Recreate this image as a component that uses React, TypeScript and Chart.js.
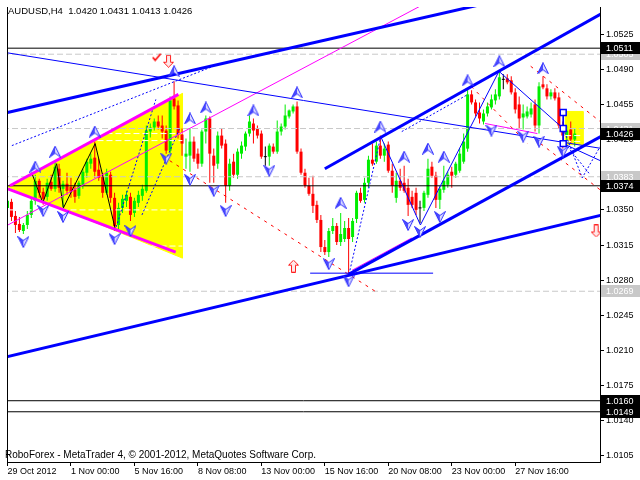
import { useEffect, useRef } from 'react';
import { Chart, registerables } from 'chart.js';

Chart.register(...registerables);

const FONT = 'Liberation Sans';

// ---- axes ----
const xTickIdx = [0, 16, 32, 48, 64, 80, 96, 112, 128];
const xTickLabels = ['29 Oct 2012', '1 Nov 00:00', '5 Nov 16:00', '8 Nov 08:00', '13 Nov 00:00', '15 Nov 16:00', '20 Nov 08:00', '23 Nov 00:00', '27 Nov 16:00'];
const yTicks = [1.0525, 1.049, 1.0455, 1.042, 1.0385, 1.035, 1.0315, 1.028, 1.0245, 1.021, 1.0175, 1.014, 1.0105];
const xMin = -0.125;
const xMax = 149.375;
const yMin = 1.0099;
const yMax = 1.0552;

const titleText = 'AUDUSD,H4  1.0420 1.0431 1.0413 1.0426';
const copyrightText = 'RoboForex - MetaTrader 4, \u00a9 2001-2012, MetaQuotes Software Corp.';

// ---- H4 candles ----
const opens = [
  1.0352, 1.0358, 1.0344, 1.0336, 1.0329, 1.0335, 1.0345, 1.0359, 1.0379, 1.0368,
  1.0363, 1.0378, 1.0371, 1.0391, 1.0371, 1.0376, 1.0373, 1.0370, 1.0364, 1.0375,
  1.0387, 1.0396, 1.0402, 1.0390, 1.0383, 1.0367, 1.0385, 1.0362, 1.0335, 1.0352,
  1.0359, 1.0363, 1.0347, 1.0357, 1.0364, 1.0369, 1.0428, 1.0432, 1.0438, 1.0434,
  1.0429, 1.0409, 1.0461, 1.0454, 1.0425, 1.0403, 1.0404, 1.0418, 1.0406, 1.0396,
  1.0428, 1.0441, 1.0404, 1.0396, 1.0424, 1.0416, 1.0374, 1.0398, 1.0385, 1.0406,
  1.0413, 1.0426, 1.0436, 1.0431, 1.0426, 1.0403, 1.0403, 1.0413, 1.0408, 1.0428,
  1.0433, 1.0443, 1.0448, 1.0453, 1.0408, 1.0387, 1.0374, 1.0366, 1.0355, 1.0340,
  1.0313, 1.0308, 1.0329, 1.0334, 1.0318, 1.0321, 1.0332, 1.0323, 1.0341, 1.0367,
  1.0360, 1.0377, 1.0400, 1.0398, 1.0414, 1.0404, 1.0415, 1.0389, 1.0362, 1.0379,
  1.0377, 1.0372, 1.0363, 1.0367, 1.0352, 1.0352, 1.0365, 1.0393, 1.0384, 1.0360,
  1.0370, 1.0375, 1.0388, 1.0385, 1.0389, 1.0398, 1.0411, 1.0465, 1.0457, 1.0447,
  1.0438, 1.0446, 1.0452, 1.0459, 1.0463, 1.0480, 1.0481, 1.0479, 1.0467, 1.0455,
  1.0442, 1.0443, 1.0445, 1.0455, 1.0434, 1.0475, 1.0471, 1.0463, 1.0467, 1.0462,
  1.0434, 1.0424, 1.0430, 1.0420,
];
const highs = [
  1.0361, 1.0361, 1.0349, 1.0343, 1.0337, 1.0349, 1.0362, 1.0385, 1.0381, 1.0372,
  1.0381, 1.0385, 1.0398, 1.0396, 1.0379, 1.0387, 1.0382, 1.0377, 1.0379, 1.0391,
  1.0401, 1.0406, 1.0418, 1.0401, 1.0387, 1.0391, 1.0388, 1.0367, 1.0357, 1.0365,
  1.0369, 1.0367, 1.0362, 1.0369, 1.0375, 1.0434, 1.0436, 1.0441, 1.0444, 1.0444,
  1.0434, 1.0463, 1.0478, 1.0459, 1.0431, 1.0421, 1.0431, 1.0423, 1.0411, 1.0430,
  1.0444, 1.0443, 1.0411, 1.0428, 1.0431, 1.0420, 1.0401, 1.0406, 1.0411, 1.0418,
  1.0428, 1.0444, 1.0441, 1.0434, 1.0429, 1.0413, 1.0416, 1.0416, 1.0439, 1.0436,
  1.0455, 1.0450, 1.0455, 1.0458, 1.0411, 1.0391, 1.0382, 1.0384, 1.0359, 1.0345,
  1.0320, 1.0332, 1.0342, 1.0337, 1.0347, 1.0339, 1.0342, 1.0342, 1.0369, 1.0372,
  1.0382, 1.0404, 1.0416, 1.0418, 1.0424, 1.0416, 1.0418, 1.0396, 1.0387, 1.0391,
  1.0394, 1.0381, 1.0369, 1.0372, 1.0359, 1.0369, 1.0401, 1.0398, 1.0388, 1.0374,
  1.0394, 1.0388, 1.0393, 1.0398, 1.0411, 1.0426, 1.0470, 1.0469, 1.0460, 1.0457,
  1.0450, 1.0457, 1.0465, 1.0470, 1.0488, 1.0485, 1.0485, 1.0483, 1.0471, 1.0463,
  1.0455, 1.0453, 1.0457, 1.0460, 1.0477, 1.0483, 1.0475, 1.0470, 1.0471, 1.0467,
  1.0438, 1.0434, 1.0438, 1.0431,
];
const lows = [
  1.0349, 1.0339, 1.0327, 1.0328, 1.0326, 1.0331, 1.0342, 1.0355, 1.0362, 1.0355,
  1.0359, 1.0369, 1.0368, 1.0367, 1.0353, 1.0365, 1.0362, 1.0357, 1.0361, 1.0371,
  1.0382, 1.0391, 1.0382, 1.0379, 1.0362, 1.0365, 1.0357, 1.0329, 1.0331, 1.0347,
  1.0353, 1.0339, 1.0343, 1.0353, 1.0359, 1.0367, 1.0422, 1.0429, 1.0430, 1.0421,
  1.0406, 1.0406, 1.0450, 1.0421, 1.0404, 1.0391, 1.0388, 1.0398, 1.0391, 1.0393,
  1.0416, 1.0377, 1.0377, 1.0391, 1.0411, 1.0357, 1.0369, 1.0382, 1.0381, 1.0401,
  1.0409, 1.0423, 1.0416, 1.0421, 1.0401, 1.0394, 1.0394, 1.0406, 1.0406, 1.0424,
  1.0430, 1.0441, 1.0446, 1.0406, 1.0385, 1.0372, 1.0364, 1.0347, 1.0337, 1.0308,
  1.0305, 1.0303, 1.0326, 1.0315, 1.0314, 1.0318, 1.0286, 1.0318, 1.0337, 1.0357,
  1.0357, 1.0372, 1.0394, 1.0396, 1.0401, 1.0398, 1.0387, 1.0367, 1.0357, 1.0369,
  1.0367, 1.0344, 1.0352, 1.0345, 1.0337, 1.0349, 1.0362, 1.0382, 1.0352, 1.0351,
  1.0367, 1.0372, 1.0372, 1.0382, 1.0387, 1.0396, 1.0408, 1.0455, 1.0443, 1.0436,
  1.0435, 1.0443, 1.0450, 1.0455, 1.0460, 1.0470, 1.0475, 1.0465, 1.0446, 1.0431,
  1.0430, 1.0441, 1.0442, 1.0428, 1.0426, 1.0470, 1.0460, 1.0460, 1.0459, 1.0431,
  1.0411, 1.0418, 1.0416, 1.0413,
];
const closes = [
  1.0359, 1.0343, 1.0335, 1.0330, 1.0335, 1.0345, 1.0359, 1.0379, 1.0367, 1.0361,
  1.0377, 1.0371, 1.0393, 1.0372, 1.0376, 1.0369, 1.0368, 1.0363, 1.0377, 1.0388,
  1.0398, 1.0401, 1.0388, 1.0382, 1.0367, 1.0387, 1.0362, 1.0334, 1.0352, 1.0361,
  1.0365, 1.0345, 1.0359, 1.0365, 1.0371, 1.0429, 1.0432, 1.0438, 1.0433, 1.0428,
  1.0409, 1.0459, 1.0453, 1.0425, 1.0416, 1.0406, 1.0418, 1.0401, 1.0396, 1.0428,
  1.0441, 1.0406, 1.0394, 1.0424, 1.0414, 1.0374, 1.0396, 1.0385, 1.0408, 1.0414,
  1.0426, 1.0438, 1.0429, 1.0424, 1.0403, 1.0403, 1.0414, 1.0408, 1.0428, 1.0433,
  1.0444, 1.0449, 1.0453, 1.0408, 1.0387, 1.0374, 1.0366, 1.0354, 1.0340, 1.0313,
  1.0308, 1.0329, 1.0334, 1.0318, 1.0326, 1.0332, 1.0321, 1.0339, 1.0367, 1.0359,
  1.0377, 1.0400, 1.0396, 1.0414, 1.0404, 1.0411, 1.0389, 1.0374, 1.0379, 1.0372,
  1.0369, 1.0355, 1.0355, 1.0350, 1.0352, 1.0367, 1.0391, 1.0384, 1.0360, 1.0371,
  1.0379, 1.0385, 1.0384, 1.0396, 1.0406, 1.0418, 1.0465, 1.0457, 1.0446, 1.0441,
  1.0446, 1.0453, 1.0460, 1.0465, 1.0482, 1.0480, 1.0477, 1.0467, 1.0450, 1.0441,
  1.0446, 1.0448, 1.0451, 1.0434, 1.0473, 1.0472, 1.0463, 1.0467, 1.0461, 1.0434,
  1.0424, 1.0429, 1.0420, 1.0426,
];

// ---- Fractals (bar index, price of arrow) ----
const upFractalIdx = [7, 12, 22, 42, 46, 50, 62, 73, 84, 94, 100, 106, 110, 116, 124, 135];
const upFractalPrice = [1.0393, 1.0408, 1.0428, 1.0488, 1.0441, 1.0452, 1.0449, 1.0467, 1.0357, 1.0433, 1.0403, 1.0411, 1.0403, 1.0479, 1.0498, 1.0491];
const downFractalIdx = [4, 9, 14, 27, 31, 40, 46, 52, 55, 66, 81, 86, 101, 104, 109, 122, 130, 134, 140];
const downFractalPrice = [1.0318, 1.0349, 1.0343, 1.0321, 1.0329, 1.0401, 1.0380, 1.0369, 1.0349, 1.0389, 1.0296, 1.0279, 1.0335, 1.0328, 1.0343, 1.0429, 1.0423, 1.0418, 1.0408];

// ---- drawn objects (bar index, price) ----
type Pt = [number, number];
const thickBlueLines: Pt[][] = [
  [[0, 1.0447], [120, 1.0555]],
  [[-1, 1.0203], [150, 1.0345]],
  [[80, 1.0391], [150, 1.0546]],
  [[86.1, 1.0286], [150, 1.0424]],
];
const thinBlueLines: Pt[][] = [
  [[-1, 1.0507], [150, 1.0411]],
  [[94.1, 1.0423], [104.1, 1.0335], [123.9, 1.0488], [140.1, 1.0431]],
  [[140.1, 1.0447], [140.1, 1.0416]],
  [[140.1, 1.0416], [150, 1.0398]],
  [[76.3, 1.0287], [107.3, 1.0287]],
];
const dottedBlueLines: Pt[][] = [
  [[1.1, 1.0414], [51.9, 1.0493]],
  [[27.4, 1.0333], [37.4, 1.046]],
  [[33.9, 1.0345], [43.4, 1.0431]],
  [[86.1, 1.0286], [94.1, 1.0423]],
  [[99.4, 1.0428], [116.1, 1.0465]],
  [[140.1, 1.0431], [144.9, 1.0382], [149.4, 1.0413]],
  [[140.6, 1.0416], [146.9, 1.0385]],
];
const redDashedLines: Pt[][] = [
  [[40.9, 1.0399], [93.1, 1.0268]],
  [[131.9, 1.0493], [149.4, 1.0438]],
  [[134.4, 1.0416], [149.4, 1.037]],
  [[116.9, 1.0473], [131.1, 1.0416]],
];
const magentaThickLines: Pt[][] = [
  [[0.6, 1.0374], [43.1, 1.0465]],
  [[0.1, 1.0371], [42.4, 1.0308]],
];
const magentaThinLines: Pt[][] = [
  [[0.1, 1.0335], [106, 1.0557]],
  [[120.4, 1.0436], [133.6, 1.0426]],
  [[86.9, 1.029], [101.9, 1.0322]],
];
const blackZigzag: Pt[] = [[6.1, 1.0387], [8.9, 1.0357], [12.4, 1.0396], [14.1, 1.0352], [22.1, 1.0416], [27.1, 1.0332]];
const yellowTriangle: Pt[] = [[0.1, 1.0373], [44.1, 1.0466], [44.1, 1.0302], [0.1, 1.0373]];
const yellowRect: Pt[] = [[140.6, 1.0448], [145.1, 1.0448], [145.1, 1.0415], [140.6, 1.0415], [140.6, 1.0448]];
const whiteLevelSegs: Pt[][] = [
  [[0, 1.0426], [44.1, 1.0426]],
  [[0, 1.0419], [44.1, 1.0419]],
  [[0, 1.035], [44.1, 1.035]],
  [[0, 1.0314], [44.1, 1.0314]],
  [[140.6, 1.0424], [145.1, 1.0424]],
  [[140.6, 1.0418], [145.1, 1.0418]],
];
const grayLevels = [1.0505, 1.0431, 1.0383, 1.0269];
const blackLevels = [1.0511, 1.0374, 1.016, 1.0149];
const checkMarks: Pt[] = [[37.6, 1.0502]];
const hollowDownArrows: Pt[] = [[40.6, 1.0498], [148.4, 1.0329]];
const hollowUpArrows: Pt[] = [[72.1, 1.0294]];
const blueSquares: Pt[] = [[140.1, 1.0447], [140.1, 1.0431], [140.1, 1.0416]];

const priceLabels = [
  { value: 1.0505, dark: false },
  { value: 1.0511, dark: true },
  { value: 1.0431, dark: false },
  { value: 1.0426, dark: true },
  { value: 1.0383, dark: false },
  { value: 1.0374, dark: true },
  { value: 1.0269, dark: false },
  { value: 1.016, dark: true },
  { value: 1.0149, dark: true },
];

const BULL = '#00ee00';
const BEAR = '#ff0000';

function makeFractal(up: boolean) {
  const c = document.createElement('canvas');
  c.width = 12;
  c.height = 12;
  const g = c.getContext('2d')!;
  if (!up) {
    g.translate(0, 12);
    g.scale(1, -1);
  }
  g.beginPath();
  g.moveTo(6, 0.5);
  g.lineTo(6, 7.5);
  g.lineTo(0.5, 11.5);
  g.closePath();
  g.fillStyle = '#4a4aff';
  g.fill();
  g.beginPath();
  g.moveTo(6, 0.5);
  g.lineTo(11.5, 11.5);
  g.lineTo(6, 7.5);
  g.closePath();
  g.fillStyle = '#dcdcff';
  g.fill();
  g.beginPath();
  g.moveTo(6, 0.5);
  g.lineTo(11.5, 11.5);
  g.lineTo(6, 7.5);
  g.lineTo(0.5, 11.5);
  g.closePath();
  g.strokeStyle = '#3030ff';
  g.lineWidth = 1;
  g.stroke();
  return c;
}

function makeHollowArrow(up: boolean) {
  const c = document.createElement('canvas');
  c.width = 11;
  c.height = 13;
  const g = c.getContext('2d')!;
  if (!up) {
    g.translate(0, 13);
    g.scale(1, -1);
  }
  g.beginPath();
  g.moveTo(5.5, 0.5);
  g.lineTo(10.5, 5.5);
  g.lineTo(7.5, 5.5);
  g.lineTo(7.5, 12.5);
  g.lineTo(3.5, 12.5);
  g.lineTo(3.5, 5.5);
  g.lineTo(0.5, 5.5);
  g.closePath();
  g.fillStyle = '#ffe8e8';
  g.fill();
  g.strokeStyle = '#ff2020';
  g.lineWidth = 1;
  g.stroke();
  return c;
}

function makeCheck() {
  const c = document.createElement('canvas');
  c.width = 10;
  c.height = 9;
  const g = c.getContext('2d')!;
  g.beginPath();
  g.moveTo(1, 4.5);
  g.lineTo(3.5, 7.5);
  g.lineTo(9, 1);
  g.strokeStyle = '#ff0000';
  g.lineWidth = 1.6;
  g.stroke();
  return c;
}

function lineDs(pts: Pt[], color: string, width: number, dash: number[] = [], order = 4, extra: any = {}) {
  return {
    type: 'line',
    data: pts.map(([x, y]) => ({ x, y })),
    borderColor: color,
    backgroundColor: color,
    borderWidth: width,
    borderDash: dash,
    pointRadius: 0,
    pointHoverRadius: 0,
    pointHitRadius: 0,
    fill: false,
    tension: 0,
    order,
    ...extra,
  };
}

function markerDs(pts: Pt[], style: any, order = 1, extra: any = {}) {
  return {
    type: 'line',
    data: pts.map(([x, y]) => ({ x, y })),
    showLine: false,
    pointStyle: style,
    pointRadius: 6,
    pointHoverRadius: 6,
    order,
    ...extra,
  };
}

const overlayPlugin = {
  id: 'mt4overlay',
  afterDraw(chart: any) {
    const { ctx, chartArea, scales } = chart;
    const ys = scales.y;
    ctx.save();
    ctx.strokeStyle = '#000';
    ctx.lineWidth = 1;
    ctx.beginPath();
    ctx.moveTo(chartArea.left + 0.5, chartArea.top);
    ctx.lineTo(chartArea.left + 0.5, chartArea.bottom);
    ctx.stroke();

    ctx.textBaseline = 'middle';
    ctx.textAlign = 'left';
    ctx.fillStyle = '#000';
    ctx.font = `9.5px "${FONT}"`;
    ctx.fillText(titleText, 8, 11);
    ctx.font = `10px "${FONT}"`;
    ctx.fillText(copyrightText, 5, 455);

    ctx.font = `9px "${FONT}"`;
    for (const lab of priceLabels) {
      const py = Math.round(ys.getPixelForValue(lab.value));
      ctx.fillStyle = lab.dark ? '#000000' : '#c8c8c8';
      ctx.fillRect(chartArea.right + 1, py - 6, 40, 12);
      ctx.fillStyle = '#ffffff';
      ctx.fillText(lab.value.toFixed(4), chartArea.right + 6, py + 0.5);
    }
    ctx.restore();
  },
};

export default function App() {
  const ref = useRef<HTMLCanvasElement | null>(null);

  useEffect(() => {
    const canvas = ref.current;
    if (!canvas) return;
    Chart.defaults.font.family = FONT;

    const upFr = makeFractal(true);
    const dnFr = makeFractal(false);
    const upHollow = makeHollowArrow(true);
    const dnHollow = makeHollowArrow(false);
    const check = makeCheck();

    const idx = opens.map((_, i) => i);
    const isDoji = (i: number) => opens[i] === closes[i];
    const colorOf = (i: number) => (isDoji(i) ? '#000000' : closes[i] > opens[i] ? BULL : BEAR);

    const datasets: any[] = [];
    datasets.push(lineDs(yellowTriangle, '#ffff00', 1, [], 20, { fill: 'shape', backgroundColor: '#ffff00' }));
    datasets.push(lineDs(yellowRect, '#ffff00', 1, [], 20, { fill: 'shape', backgroundColor: '#ffff00' }));
    datasets.push({
      type: 'bar',
      data: idx.map((i) => ({ x: i, y: [lows[i], highs[i]] })),
      backgroundColor: idx.map(colorOf),
      barThickness: 1,
      grouped: false,
      borderWidth: 0,
      inflateAmount: 0,
      order: 10,
    });
    datasets.push({
      type: 'bar',
      data: idx.map((i) => ({
        x: i,
        y: isDoji(i) ? [opens[i] - 0.00005, opens[i] + 0.00005] : [Math.min(opens[i], closes[i]), Math.max(opens[i], closes[i])],
      })),
      backgroundColor: idx.map(colorOf),
      barThickness: 3,
      grouped: false,
      borderWidth: 0,
      inflateAmount: 0,
      order: 9,
    });
    whiteLevelSegs.forEach((s) => datasets.push(lineDs(s, '#ffffff', 1, [6, 3], 6)));
    grayLevels.forEach((v) => datasets.push(lineDs([[xMin - 1, v], [xMax + 1, v]], '#c8c8c8', 1, [6, 3], 6)));
    blackLevels.forEach((v) => datasets.push(lineDs([[xMin - 1, v], [xMax + 1, v]], '#000000', 1, [], 6)));
    redDashedLines.forEach((s) => datasets.push(lineDs(s, '#ff0000', 1, [3, 5], 5)));
    dottedBlueLines.forEach((s) => datasets.push(lineDs(s, '#0000ff', 1, [2, 2], 5)));
    magentaThinLines.forEach((s) => datasets.push(lineDs(s, '#ff00ff', 1, [], 5)));
    magentaThickLines.forEach((s) => datasets.push(lineDs(s, '#ff00ff', 3, [], 4)));
    datasets.push(lineDs(blackZigzag, '#000000', 1, [], 5));
    thinBlueLines.forEach((s) => datasets.push(lineDs(s, '#0000ff', 1, [], 4)));
    thickBlueLines.forEach((s) => datasets.push(lineDs(s, '#0000ff', 3, [], 3)));
    datasets.push(markerDs(upFractalIdx.map((x, i) => [x, upFractalPrice[i]] as Pt), upFr, 2));
    datasets.push(markerDs(downFractalIdx.map((x, i) => [x, downFractalPrice[i]] as Pt), dnFr, 2));
    datasets.push(markerDs(checkMarks, check, 1));
    datasets.push(markerDs(hollowDownArrows, dnHollow, 1));
    datasets.push(markerDs(hollowUpArrows, upHollow, 1));
    datasets.push(
      markerDs(blueSquares, 'rect', 1, {
        pointRadius: 4.2,
        pointHoverRadius: 4.2,
        pointBackgroundColor: '#ffffff',
        pointBorderColor: '#0000ff',
        pointBorderWidth: 1.5,
      })
    );

    const chart = new Chart(canvas, {
      type: 'bar',
      data: { datasets },
      plugins: [overlayPlugin],
      options: {
        responsive: false,
        animation: false,
        events: [],
        layout: { padding: { left: 2, top: 2, right: 0, bottom: 0 } },
        plugins: { legend: { display: false }, tooltip: { enabled: false } },
        scales: {
          x: {
            type: 'linear',
            min: xMin,
            max: xMax,
            offset: false,
            afterBuildTicks: (s: any) => {
              s.ticks = xTickIdx.map((v) => ({ value: v }));
            },
            afterFit: (s: any) => {
              s.height = 18;
              s.paddingLeft = 0;
              s.paddingRight = 0;
            },
            ticks: {
              autoSkip: false,
              maxRotation: 0,
              minRotation: 0,
              align: 'start',
              padding: 0,
              color: '#000',
              font: { family: FONT, size: 9 },
              callback: (v: any) => {
                const k = xTickIdx.indexOf(Number(v));
                return k >= 0 ? xTickLabels[k] : '';
              },
            },
            grid: { offset: false, drawOnChartArea: false, drawTicks: true, tickLength: 4, color: '#000' },
            border: { display: true, color: '#000' },
          },
          y: {
            type: 'linear',
            position: 'right',
            min: yMin,
            max: yMax,
            afterBuildTicks: (s: any) => {
              s.ticks = yTicks.map((v) => ({ value: v }));
            },
            afterFit: (s: any) => {
              s.width = 40;
              s.paddingTop = 0;
              s.paddingBottom = 0;
            },
            ticks: {
              autoSkip: false,
              padding: 2,
              color: '#000',
              font: { family: FONT, size: 9 },
              callback: (v: any) => Number(v).toFixed(4),
            },
            grid: { drawOnChartArea: false, drawTicks: true, tickLength: 4, color: '#000' },
            border: { display: true, color: '#000' },
          },
        },
      } as any,
    } as any);

    return () => chart.destroy();
  }, []);

  return (
    <div style={{ position: 'fixed', left: 0, top: 0, width: 640, height: 480, background: '#ffffff' }}>
      <canvas ref={ref} width={640} height={480} style={{ display: 'block' }} />
    </div>
  );
}
